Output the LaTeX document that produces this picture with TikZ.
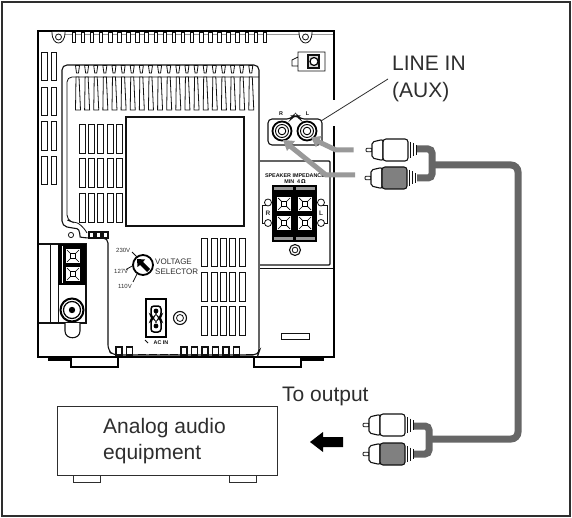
\documentclass[tikz,border=0pt]{standalone}
\usepackage{fontspec}
\setmainfont{Liberation Sans}
\definecolor{frameC}{HTML}{2E2E2E}
\definecolor{cableC}{HTML}{666666}
\definecolor{arrowC}{HTML}{999999}
\definecolor{plugC}{HTML}{808080}
\definecolor{inkC}{HTML}{111111}
\newfontfamily\mathsym{DejaVu Sans}
\tikzset{
  thickline/.style={draw=black,line width=2pt},
  midline/.style={draw=inkC,line width=1.1pt},
  thinline/.style={draw=inkC,line width=0.8pt},
  cablepath/.style={draw=cableC,line width=7pt,rounded corners=7pt},
  graypath/.style={draw=arrowC,line width=5pt},
  bigtext/.style={font=\fontsize{21}{25}\selectfont,text=frameC,inner sep=0pt,anchor=base west},
  smalltext/.style={font=\fontsize{8}{9}\selectfont,text=frameC,inner sep=0pt,anchor=base west},
  tinytext/.style={font=\fontsize{6}{7}\selectfont,text=frameC,inner sep=0pt,anchor=base west},
  boldtiny/.style={font=\fontsize{5.4}{6}\selectfont\bfseries,text=inkC,inner sep=0pt,anchor=base},
  slotbox/.style={thinline,fill=white},
}
\newcommand{\rcaplug}[3]{% x (left of neck), y centre, body fill
  \draw[thinline,fill=white,rounded corners=1pt] (#1-6,#2-1.7) -- (#1,#2-1.7) -- (#1,#2+1.7) -- (#1-6,#2+1.7) -- cycle;
  \draw[midline,fill=white,rounded corners=2pt] (#1,#2-8) -- (#1+11,#2-10.5) -- (#1+11,#2+10.5) -- (#1,#2+8) -- cycle;
  \draw[midline,fill=#3,rounded corners=3pt] (#1+11,#2-11) rectangle (#1+36,#2+11);
  \draw[line width=0.8pt,draw=inkC] (#1+38.5,#2-8) -- (#1+38.5,#2+8);
  \draw[line width=0.7pt,draw=inkC] (#1+41.5,#2-6.5) -- (#1+41.5,#2+6.5);
  \draw[line width=0.7pt,draw=inkC] (#1+44.5,#2-5) -- (#1+44.5,#2+5);
}
\newcommand{\xterm}[2]{% cross terminal centred at x,y
  \draw[line width=0.7pt,draw=black,fill=white] (#1-7.5,#2-7.5) rectangle (#1+7.5,#2+7.5);
  \draw[line width=0.7pt,draw=black] (#1-6,#2-6) -- (#1+6,#2+6) (#1-6,#2+6) -- (#1+6,#2-6);
  \draw[line width=0.7pt,draw=black,fill=white] (#1-2.6,#2-2.6) rectangle (#1+2.6,#2+2.6);
}
\begin{document}
\begin{tikzpicture}[x=1pt,y=-1pt]
\useasboundingbox (0,0) rectangle (572,518);
\fill[white] (0,0) rectangle (572,518);
\draw[draw=frameC,line width=2pt] (2,2) rectangle (570,516);

% --- device body ---
\draw[thickline] (334,100) -- (334,31) -- (38,31) -- (38,357) -- (334,357) -- (334,126);
% feet
\draw[thickline,fill=black] (49,357) rectangle (74,360);
\draw[thickline,fill=black] (299,357) rectangle (323,360);
\draw[thickline,fill=white] (71,358) -- (71,367) -- (118,367) -- (118,358);
\draw[thickline,fill=white] (254,358) -- (254,367) -- (301,367) -- (301,358);

% top slots and screws
\draw[line width=1pt,draw=arrowC] (65,34.5) -- (333,34.5);
\foreach \i in {0,...,21} {
  \draw[slotbox] ({72+9.1*\i},32) rectangle ({75.5+9.1*\i},42);
}
\foreach \x in {58.5,305.5} {
  \fill[white] (\x-6.5,32) rectangle (\x+6.5,34);
  \draw[thinline,fill=white] (\x-6.5,32) .. controls (\x-6.5,40) and (\x-3,43) .. (\x,43) .. controls (\x+3,43) and (\x+6.5,40) .. (\x+6.5,32);
  \draw[thinline] (\x,37) circle[radius=3];
}

% left slots
\foreach \y/\h in {52/28,87/28,121/29,156/28} {
  \draw[slotbox] (41.5,\y) rectangle (47,\y+\h);
  \draw[slotbox] (51,\y) rectangle (56.5,\y+\h);
}

% inner panel
\draw[midline,rounded corners=5pt] (108,300) -- (108,238) -- (85,238)
  .. controls (80,237) and (80,229) .. (72,228) -- (62,226) -- (62,65) -- (259,65) -- (259,352)
  -- (258,355) -- (113,355) -- (108,350) -- (108,300);
\draw[thinline,rounded corners=5pt] (87,233) .. controls (83,226) and (78,223) .. (72,222) -- (67,220) -- (67,77) -- (259,77);
% vent slots
\foreach \i in {0,...,19} {
  \draw[slotbox] ({75.5+9.12*\i},65.5) -- ({79.5+9.12*\i},65.5) -- ({78.5+9.12*\i},73) -- ({76.5+9.12*\i},73) -- cycle;
  \draw[slotbox] ({76+9.12*\i},77) -- ({79+9.12*\i},77) -- ({80.5+9.12*\i},110) -- ({75.5+9.12*\i},110) -- cycle;
}
% window
\draw[midline] (126,117) rectangle (244,226);
% grids
\foreach \c in {0,...,4} {
  \foreach \y/\h in {124/29,158/29,193/29} {
    \draw[slotbox] ({79+9.4*\c},\y) rectangle ({85+9.4*\c},\y+\h);
  }
  \foreach \y/\h in {238/28,272/29,306/29} {
    \draw[slotbox] ({201.5+9.4*\c},\y) rectangle ({207.5+9.4*\c},\y+\h);
  }
}
% small hooks at panel foot
\draw[thinline] (71,235) circle[radius=2.6];
\foreach \x in {89,96,103} \draw[midline,fill=white] (\x,232) rectangle (\x+5,238);

% left block
\draw[midline] (39,244) -- (86,244) -- (86,323) -- (39,323);
\draw[thinline] (50,244) -- (50,323);
\draw[thinline] (58,244) -- (58,323);
\fill[black] (58,244) rectangle (86,285);
\fill[white] (62,246) rectangle (63,283);
\xterm{73}{256}
\xterm{73}{274}
\draw[midline,fill=white] (65,323) -- (65,331) .. controls (65,340) and (80,340) .. (80,331) -- (80,323);
\draw[line width=2pt,draw=black,fill=white] (72,310) circle[radius=11.5];
\draw[line width=1.2pt,draw=black,fill=white] (72,310) circle[radius=8.5];
\fill[black] (72,310) circle[radius=3.2];

% voltage selector
\draw[line width=1.8pt,draw=black,fill=white] (143,265) circle[radius=10];
\fill[black] (137,259) -- (145,259.5) -- (143,262) -- (150,269) -- (147,272) -- (140,265) -- (137.5,267) -- cycle;
\draw[thinline] (132,252) -- (137,257);
\draw[thinline] (126,269.5) -- (134,265);
\draw[thinline] (133,282) -- (137,274);
\node[tinytext] (v230) at (116,253) {230V};
\node[tinytext] (v127) at (114,273) {127V};
\node[tinytext] (v110) at (118,288) {110V};
\node[smalltext] (volt) at (155,265) {VOLTAGE};
\node[smalltext] (sel) at (155,274) {SELECTOR};

% AC inlet
\draw[line width=2pt,draw=black,fill=white] (146,299) rectangle (166,337);
\draw[line width=1.5pt,fill=white,rounded corners=3pt] (151,306) -- (161,306) -- (161,316) -- (159,318) -- (161,320) -- (161,332) -- (151,332) -- (151,320) -- (153,318) -- (151,316) -- cycle;
\fill[black] (156,311) circle[radius=2.4];
\fill[black] (156,326) circle[radius=2.4];
\node[boldtiny] (acin) at (161,344) {AC IN};
\draw[thinline] (145,340) -- (148,343);
\draw[midline] (180,318) circle[radius=6.5];
\draw[thinline] (180,318) circle[radius=3.5];

% bottom teeth
\foreach \x in {116,126.5,181,191.5,202,212.5,223,233.5} {
  \draw[midline,fill=white] (\x,347) rectangle (\x+6,355);
}
\foreach \x in {138,149,160,170,246} { \draw[thinline] (\x,355) -- (\x,354) -- (\x+7,354) -- (\x+7,355); }

% optical port top right
\draw[thinline] (298,57) -- (298,71) -- (325,71) -- (325,52) -- (298,52) -- (298,57) -- (292,60) -- (292,66) -- (298,66);
\draw[midline,fill=black!15] (308,55) rectangle (319,68);
\draw[line width=1.2pt,fill=white] (314,61.5) circle[radius=4];

% jack panel
\draw[midline,rounded corners=4pt] (268,145) -- (322,145) -- (322,119) -- (300,119)
  -- (298,116) -- (293,116) -- (291,119) -- (268,119) -- cycle;
\foreach \x in {282,307} {
  \draw[line width=1.8pt,draw=black,fill=white] (\x,131) circle[radius=9.5];
  \draw[line width=0.9pt,draw=black] (\x,131) circle[radius=6.5];
  \draw[line width=0.9pt,draw=black] (\x,131) circle[radius=3.8];
}
\node[boldtiny] (jr) at (281,116) {R};
\node[boldtiny] (jl) at (307.5,116) {L};

% speaker compartment
\draw[midline,rounded corners=1pt] (260,161) -- (330,161) -- (330,265) -- (260,265);
\draw[thinline] (260,268) -- (333,268);
\node[boldtiny] (spk) at (295,178) {SPEAKER IMPEDANCE};
\node[boldtiny] (spkm) at (295,183.5) {MIN\ \ 4\,{\mathsym Ω}};
\fill[black] (272,185) rectangle (317,242);
\fill[arrowC] (274,187) rectangle (292.5,190);
\fill[arrowC] (296,187) rectangle (315,190);
\fill[arrowC] (274,237) rectangle (292.5,240);
\fill[arrowC] (296,237) rectangle (315,240);
\xterm{284}{204}
\xterm{305}{204}
\xterm{284}{223}
\xterm{305}{223}
\draw[thinline] (268,205) -- (262,205) -- (262,223) -- (268,223);
\draw[thinline] (321,205) -- (327,205) -- (327,223) -- (321,223);
\draw[thinline,fill=white] (268,202.5) circle[radius=3.5];
\draw[thinline,fill=white] (268,223) circle[radius=3.5];
\draw[thinline,fill=white] (321,202.5) circle[radius=3.5];
\draw[thinline,fill=white] (321,223) circle[radius=3.5];
\node[font=\fontsize{6.5}{7}\selectfont\bfseries,text=frameC,inner sep=0pt] (spr) at (268,213) {R};
\node[font=\fontsize{6.5}{7}\selectfont\bfseries,text=frameC,inner sep=0pt] (spl) at (321,213) {L};
\draw[midline] (295,250) circle[radius=5.5];
\draw[thinline] (295,250) circle[radius=2.8];
\draw[thinline] (281,333) rectangle (309,339);

% labels
\node[bigtext] (linein) at (392,70.5) {LINE IN};
\node[bigtext] (aux) at (392,98) {(AUX)};
\node[bigtext] (toout) at (282,401) {To output};
\coordinate (leaderEnd) at (321,121);
\coordinate (leaderStart) at (388,79);
\draw[draw=frameC,line width=0.8pt] (leaderStart) -- (leaderEnd);

% gray insertion arrows
\coordinate (ga1) at (353.5,150);
\coordinate (ga2) at (311,137.5);
\coordinate (gb1) at (355,175);
\coordinate (gb2) at (283,140);
\draw[graypath] (ga1) -- (336,150) -- (317,141);
\fill[arrowC] (ga2) -- (321.5,136) -- (316,147.5) -- cycle;
\draw[graypath] (gb1) -- (326,175) -- (290,146);
\fill[arrowC] (gb2) -- (295,141) -- (287,151) -- cycle;

% cable
\coordinate (cTop) at (432,165);
\coordinate (cBot) at (429,439);
\draw[cablepath] (cTop) -- (518,165) -- (518,439) -- (cBot);
\draw[cablepath,rounded corners=4pt] (417,149) -- (432,149) -- (432,178) -- (417,178);
\draw[cablepath,rounded corners=4pt] (414,426) -- (429,426) -- (429,454) -- (414,454);

% plugs
\rcaplug{372}{150}{white}
\rcaplug{371}{178}{plugC}
\rcaplug{369}{425}{white}
\rcaplug{369}{454}{plugC}

% black arrow
\fill[black] (310,442) -- (323,432) -- (323,437) -- (343,437) -- (343,447) -- (323,447) -- (323,452) -- cycle;

% analog equipment
\node[draw=frameC,line width=1.1pt,minimum width=220pt,minimum height=69pt,inner sep=0pt,anchor=north west] (equip) at (57,406) {};
\draw[draw=frameC,line width=0.9pt] (73,475) rectangle (100,482);
\draw[draw=frameC,line width=0.9pt] (229,475) rectangle (256,482);
\node[bigtext] (an1) at (103,433) {Analog audio};
\node[bigtext] (an2) at (103,459) {equipment};
\end{tikzpicture}
\end{document}
